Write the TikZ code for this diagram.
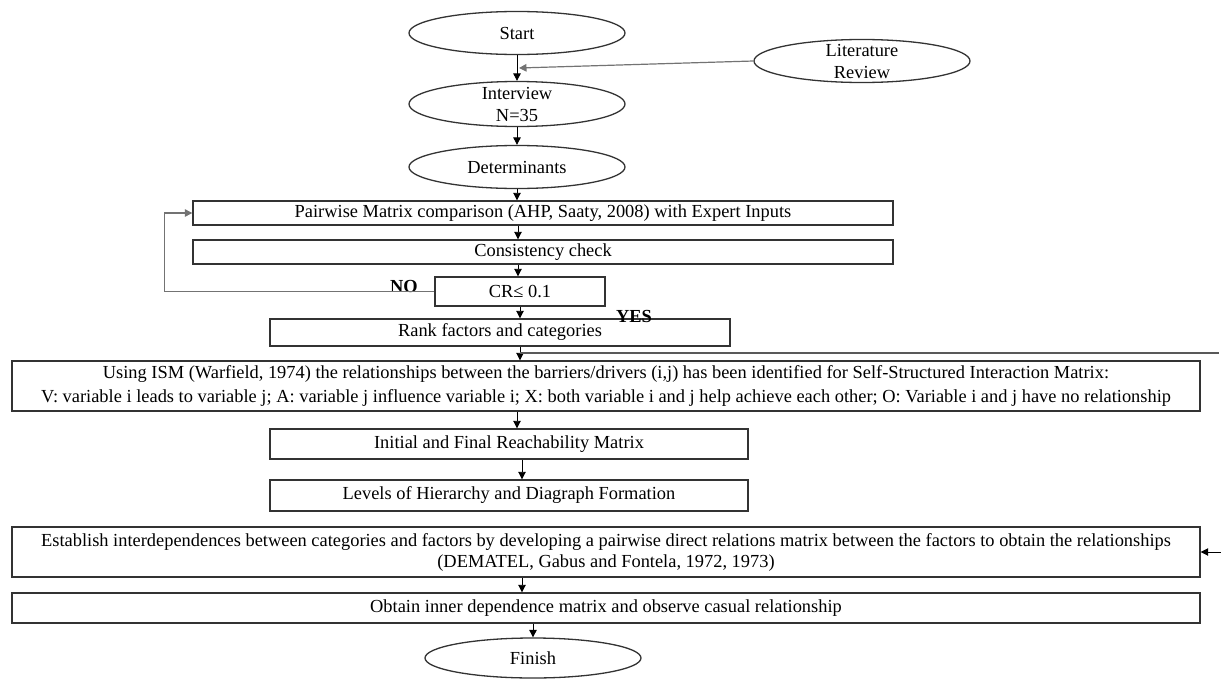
\documentclass[tikz,border=0pt]{standalone}
\usepackage{fontspec}
\setmainfont{Liberation Serif}
\usetikzlibrary{arrows.meta,shapes.geometric}
\begin{document}
\begin{tikzpicture}[x=1pt,y=-1pt,
  every node/.style={font=\fontsize{18.4}{22}\selectfont, text=black},
  oval/.style={ellipse, draw=black!80, line width=1.3pt, minimum width=216pt, minimum height=43pt, inner sep=0pt, align=center},
  box/.style={rectangle, draw=black!80, line width=1.4pt, inner sep=0pt, align=center},
  arr/.style={draw=black, line width=0.9pt, -{Triangle[length=7.5pt,width=7.5pt]}},
  garr/.style={draw=black!55, line width=1.2pt, -{Triangle[length=7.5pt,width=7.5pt]}},
  gline/.style={draw=black!65, line width=1.2pt},
  lbl/.style={font=\fontsize{18.4}{22}\selectfont\bfseries, inner sep=0pt}
]
\useasboundingbox (0,0) rectangle (1221,680);

% ovals
\node[oval] (st) at (517,33) {Start};
\node[oval, inner ysep=-9pt] (lit) at (862,61) {Literature\\Review};
\node[oval, inner ysep=-9pt, minimum height=45pt] (int) at (517,104) {Interview\\N=35};
\node[oval] (det) at (517,167) {Determinants};
\node[oval, minimum height=40pt] (fin) at (533,658) {Finish};

% boxes
\node[box, minimum width=700pt, minimum height=24pt] (pw) at (543,213) {Pairwise Matrix comparison (AHP, Saaty, 2008) with Expert Inputs};
\node[box, minimum width=700pt, minimum height=24pt] (cc) at (543,252) {Consistency check};
\node[box, minimum width=170pt, minimum height=29pt] (cr) at (520,291.5) {CR≤ 0.1};
\node[box, minimum width=460pt, minimum height=27pt] (rk) at (500,332.5) {Rank factors and categories};
\node[box, minimum width=1188pt, minimum height=50pt, font=\fontsize{18.4}{24}\selectfont] (ism) at (606,386) {Using ISM (Warfield, 1974) the relationships between the barriers/drivers (i,j) has been identified for Self-Structured Interaction Matrix:\\V: variable i leads to variable j; A: variable j influence variable i; X: both variable i and j help achieve each other; O: Variable i and j have no relationship};
\node[box, minimum width=478pt, minimum height=30pt] (ini) at (509,444) {Initial and Final Reachability Matrix};
\node[box, minimum width=478pt, minimum height=31pt] (lev) at (509,495.5) {Levels of Hierarchy and Diagraph Formation};
\node[box, minimum width=1188pt, minimum height=50pt, font=\fontsize{18.4}{21}\selectfont] (dem) at (606,552) {Establish interdependences between categories and factors by developing a pairwise direct relations matrix between the factors to obtain the relationships\\(DEMATEL, Gabus and Fontela, 1972, 1973)};
\node[box, minimum width=1188pt, minimum height=30pt] (obt) at (606,608) {Obtain inner dependence matrix and observe casual relationship};

% labels
\node[lbl] (no) at (404,286) {NO};
\node[lbl] (yes) at (634,316) {YES};

% coordinates
\coordinate (j) at (519,68);
\coordinate (hl) at (520,353);
\coordinate (hr) at (1219,353);
\coordinate (rin) at (1221,552);

% connectors
\draw[arr] (st.south) -- (int.north);
\draw[garr] (lit.west) -- (j);
\draw[arr] (int.south) -- (det.north);
\draw[arr] (det.south) -- ([xshift=-26pt]pw.north);
\draw[arr] ([xshift=-25pt]pw.south) -- ([xshift=-25pt]cc.north);
\draw[arr] ([xshift=-25pt]cc.south) -- ([xshift=-2pt]cr.north);
\draw[arr] (cr.south) -- ([xshift=20pt]rk.north);
\draw[arr] ([xshift=20pt]rk.south) -- ([xshift=-86pt]ism.north);
\draw[gline] (hl) -- (hr);
\draw[arr] ([xshift=-89pt]ism.south) -- ([xshift=8pt]ini.north);
\draw[arr] ([xshift=13pt]ini.south) -- ([xshift=13pt]lev.north);
\draw[arr] (rin) -- (dem.east);
\draw[arr] ([xshift=-84pt]dem.south) -- ([xshift=-84pt]obt.north);
\draw[arr] ([xshift=-73pt]obt.south) -- (fin.north);
\draw[garr] (cr.west) -- ++(-270,0) |- (pw.west);
\end{tikzpicture}
\end{document}
